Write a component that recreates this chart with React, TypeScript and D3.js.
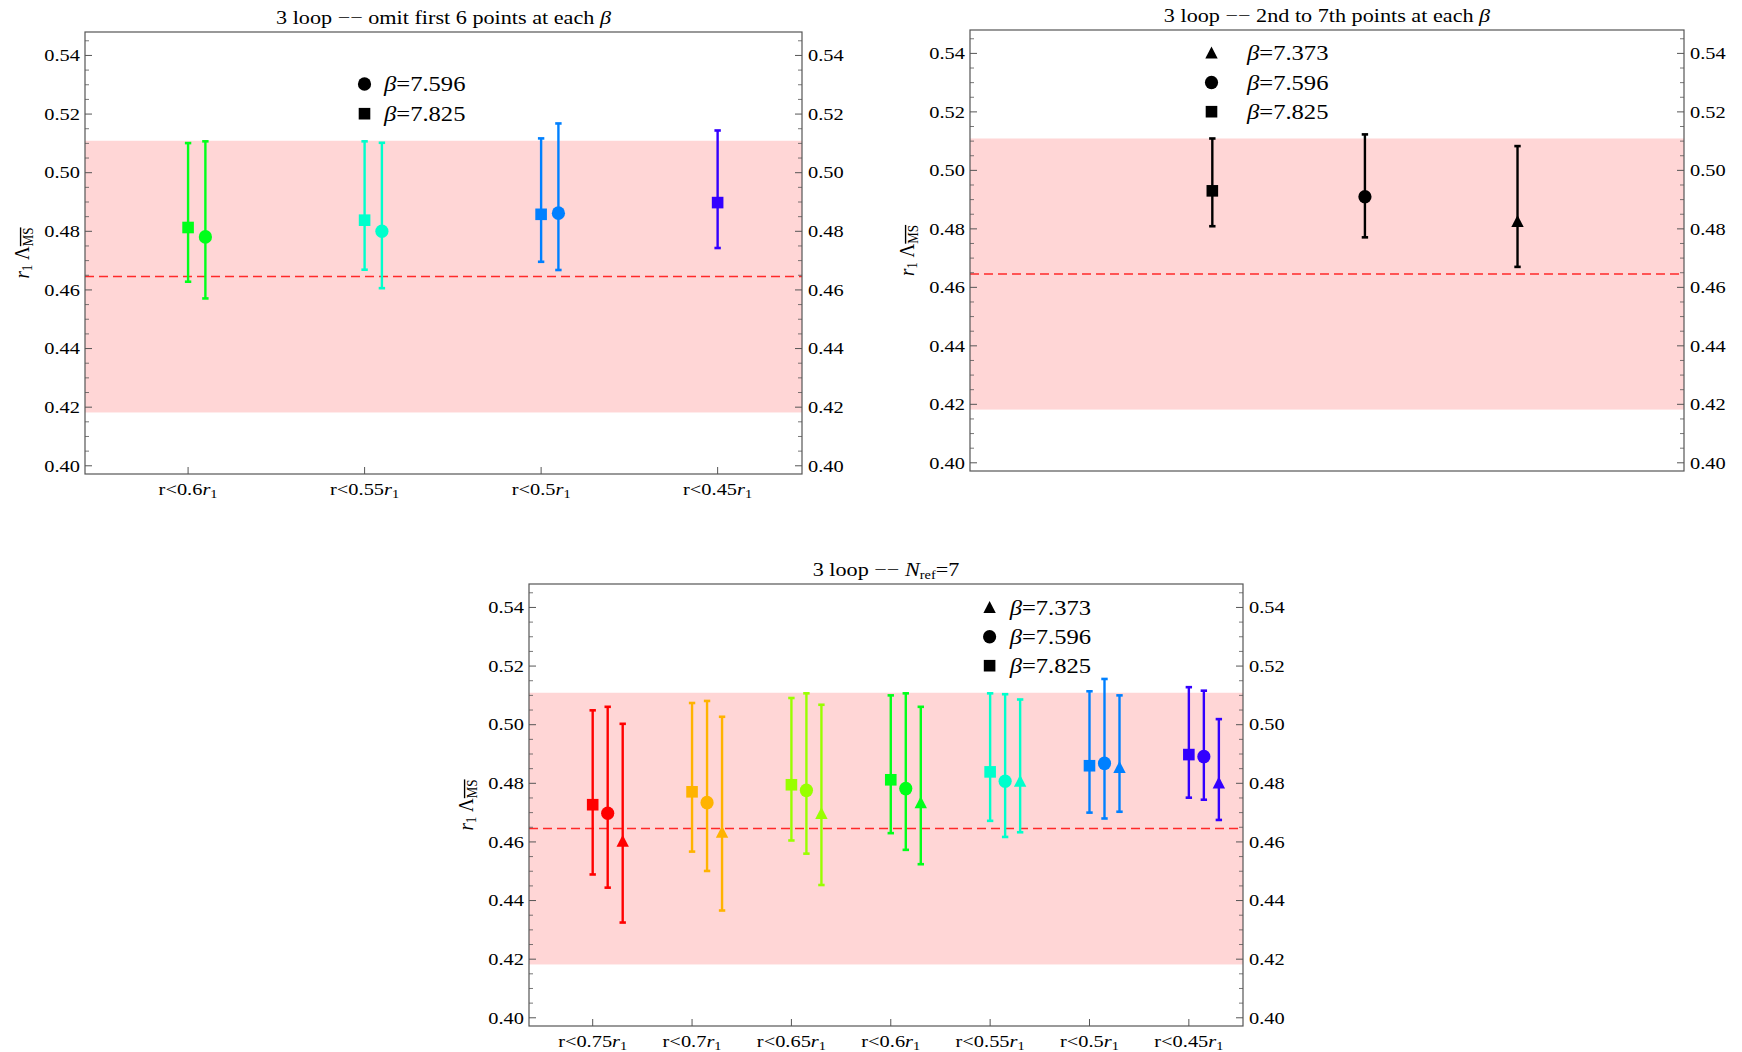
import React from "react";
import * as d3 from "d3";

// ---------- data ----------
const yMajorTicks = [0.40, 0.42, 0.44, 0.46, 0.48, 0.50, 0.52, 0.54];
const bandLow = 0.4182;
const bandHigh = 0.5109;
const refValue = 0.4646;

// Panel 1: omit first 6 points
const p1Cuts = ["0.6", "0.55", "0.5", "0.45"];
const p1Colors = ["#00FF1A", "#00FFCC", "#0080FF", "#3300FF"];
const p1SquareVal = [0.4813, 0.4838, 0.4858, 0.4898];
const p1SquareLo = [0.4628, 0.4669, 0.4696, 0.4743];
const p1SquareHi = [0.5101, 0.5107, 0.5117, 0.5144];
const p1CircleVal = [0.4781, 0.48, 0.4862, null];
const p1CircleLo = [0.4571, 0.4606, 0.4668, null];
const p1CircleHi = [0.5107, 0.5102, 0.5168, null];

// Panel 2: 2nd to 7th points
const p2Shapes = ["square", "circle", "triangle"];
const p2Val = [0.493, 0.491, 0.4824];
const p2Lo = [0.4809, 0.4771, 0.467];
const p2Hi = [0.5109, 0.5123, 0.5083];

// Panel 3: N_ref = 7
const p3Cuts = ["0.75", "0.7", "0.65", "0.6", "0.55", "0.5", "0.45"];
const p3Colors = ["#FF0000", "#FFB300", "#99FF00", "#00FF1A", "#00FFCC", "#0080FF", "#3300FF"];
const p3SquareVal = [0.4727, 0.4771, 0.4795, 0.4812, 0.4839, 0.486, 0.4898];
const p3SquareLo = [0.4489, 0.4567, 0.4605, 0.463, 0.4672, 0.47, 0.4751];
const p3SquareHi = [0.5049, 0.5074, 0.5091, 0.51, 0.5107, 0.5114, 0.5128];
const p3CircleVal = [0.4698, 0.4734, 0.4776, 0.4782, 0.4807, 0.4868, 0.4891];
const p3CircleLo = [0.4444, 0.4501, 0.456, 0.4573, 0.4617, 0.468, 0.4744];
const p3CircleHi = [0.5061, 0.5081, 0.5107, 0.5107, 0.5104, 0.5156, 0.5116];
const p3TriVal = [0.4601, 0.4632, 0.4696, 0.4733, 0.4806, 0.4853, 0.48];
const p3TriLo = [0.4325, 0.4366, 0.4453, 0.4524, 0.4633, 0.4703, 0.4675];
const p3TriHi = [0.5003, 0.5027, 0.5068, 0.5061, 0.5086, 0.51, 0.5019];

const legendTri = { shape: "triangle", beta: "7.373" };
const legendCirc = { shape: "circle", beta: "7.596" };
const legendSq = { shape: "square", beta: "7.825" };

// ---------- helpers ----------
const FONT = "'Liberation Serif','Times New Roman',serif";
const SX = 1.2;
const yMinorTicks = d3
  .range(0, 30)
  .map((i) => +(0.4 + i * 0.005).toFixed(3))
  .filter((v) => !yMajorTicks.some((m) => Math.abs(m - v) < 1e-6));
const fmt = d3.format(".2f");

type Pt = { x: number; shape: string; color: string; v: number; lo: number; hi: number };

function T({ x, y, anchor = "start", size = 17, rotate = false, children }: any) {
  const tr = rotate
    ? `translate(${x},${y}) rotate(-90) scale(1,1.05)`
    : `translate(${x},${y}) scale(${SX},1)`;
  return (
    <text transform={tr} textAnchor={anchor} fontSize={size} fontFamily={FONT} fill="#000">
      {children}
    </text>
  );
}

function Marker({ shape, x, y, color }: any) {
  if (shape === "square")
    return <rect x={x - 5.8} y={y - 5.8} width={11.6} height={11.6} fill={color} />;
  if (shape === "circle") return <ellipse cx={x} cy={y} rx={6.6} ry={6.8} fill={color} />;
  return <path d={`M${x},${y - 6.8}L${x + 6.2},${y + 5.2}L${x - 6.2},${y + 5.2}Z`} fill={color} />;
}

function Panel({ left, right, top, bottom, xDomain, xTicks, points, legend, title }: any) {
  const x = d3.scaleLinear().domain(xDomain).range([left, right]);
  const y = d3.scaleLinear().domain([0.3972, 0.548]).range([bottom, top]);
  const frame = "#555";
  return (
    <g>
      <rect x={left} y={y(bandHigh)} width={right - left} height={y(bandLow) - y(bandHigh)} fill="#FFD6D6" />
      <line x1={left} x2={right} y1={y(refValue)} y2={y(refValue)} stroke="#FF2A2A" strokeWidth={1.5} strokeDasharray="9,5" />
      {points.map((p: Pt, i: number) => (
        <g key={i} stroke={p.color} strokeWidth={2.4}>
          <line x1={x(p.x)} x2={x(p.x)} y1={y(p.hi)} y2={y(p.lo)} />
          <line x1={x(p.x) - 3.2} x2={x(p.x) + 3.2} y1={y(p.hi)} y2={y(p.hi)} strokeWidth={2.6} />
          <line x1={x(p.x) - 3.2} x2={x(p.x) + 3.2} y1={y(p.lo)} y2={y(p.lo)} strokeWidth={2.6} />
        </g>
      ))}
      {points.map((p: Pt, i: number) => (
        <Marker key={i} shape={p.shape} x={x(p.x)} y={y(p.v)} color={p.color} />
      ))}
      <rect x={left} y={top} width={right - left} height={bottom - top} fill="none" stroke={frame} strokeWidth={1.2} />
      {yMajorTicks.map((t) => (
        <g key={"M" + t} stroke={frame} strokeWidth={1}>
          <line x1={left} x2={left + 7} y1={y(t)} y2={y(t)} />
          <line x1={right} x2={right - 7} y1={y(t)} y2={y(t)} />
        </g>
      ))}
      {yMinorTicks.map((t) => (
        <g key={"m" + t} stroke={frame} strokeWidth={0.8}>
          <line x1={left} x2={left + 4} y1={y(t)} y2={y(t)} />
          <line x1={right} x2={right - 4} y1={y(t)} y2={y(t)} />
        </g>
      ))}
      {yMajorTicks.map((t) => (
        <g key={"L" + t}>
          <T x={left - 5} y={y(t) + 5.8} anchor="end">{fmt(t)}</T>
          <T x={right + 6} y={y(t) + 5.8} anchor="start">{fmt(t)}</T>
        </g>
      ))}
      {xTicks &&
        xTicks.map((c: string, i: number) => (
          <g key={"x" + i}>
            <line x1={x(i)} x2={x(i)} y1={bottom} y2={bottom - 7} stroke={frame} strokeWidth={1} />
            <T x={x(i)} y={bottom + 21} anchor="middle">
              r&lt;{c}
              <tspan fontStyle="italic">r</tspan>
              <tspan fontSize="12" dy="3">1</tspan>
            </T>
          </g>
        ))}
      <T x={left - 56} y={(top + bottom) / 2} anchor="middle" size={19} rotate>
        <tspan fontStyle="italic">r</tspan>
        <tspan fontSize="13" dy="3">1</tspan>
        <tspan dy="-3"> Λ</tspan>
        <tspan fontSize="13" dy="4" style={{ textDecoration: "overline" }}>MS</tspan>
      </T>
      <T x={(left + right) / 2} y={title.y} anchor="middle" size={18.5}>{title.node}</T>
      {legend.entries.map((e: any, i: number) => (
        <g key={"lg" + i}>
          <Marker shape={e.shape} x={legend.x} y={legend.y + i * legend.dy} color="#000" />
          <T x={legend.tx} y={legend.y + i * legend.dy + 7} size={20.5}>
            <tspan fontStyle="italic">β</tspan>={e.beta}
          </T>
        </g>
      ))}
    </g>
  );
}

function buildPoints(cols: string[], shape: string, off: number, v: any[], lo: any[], hi: any[]): Pt[] {
  const out: Pt[] = [];
  v.forEach((val, i) => {
    if (val != null) out.push({ x: i + off, shape, color: cols[i], v: val, lo: lo[i], hi: hi[i] });
  });
  return out;
}

export default function App() {
  const p1Points = [
    ...buildPoints(p1Colors, "square", 0, p1SquareVal, p1SquareLo, p1SquareHi),
    ...buildPoints(p1Colors, "circle", 0.098, p1CircleVal, p1CircleLo, p1CircleHi),
  ];
  const p2Points: Pt[] = p2Val.map((v, i) => ({ x: i, shape: p2Shapes[i], color: "#000", v, lo: p2Lo[i], hi: p2Hi[i] }));
  const p3Points = [
    ...buildPoints(p3Colors, "square", 0, p3SquareVal, p3SquareLo, p3SquareHi),
    ...buildPoints(p3Colors, "circle", 0.151, p3CircleVal, p3CircleLo, p3CircleHi),
    ...buildPoints(p3Colors, "triangle", 0.302, p3TriVal, p3TriLo, p3TriHi),
  ];
  return (
    <svg width={1742} height={1052} style={{ position: "absolute", left: 0, top: 0, background: "#fff" }}>
      <rect width={1742} height={1052} fill="#fff" />
      <Panel
        left={85} right={802} top={32} bottom={474}
        xDomain={[-0.584, 3.478]}
        xTicks={p1Cuts}
        points={p1Points}
        legend={{ x: 364.5, y: 84, dy: 29.7, tx: 384, entries: [legendCirc, legendSq] }}
        title={{ y: 24, node: <>3 loop −− omit first 6 points at each <tspan fontStyle="italic">β</tspan></> }}
      />
      <Panel
        left={970} right={1684} top={30} bottom={471}
        xDomain={[-1.588, 3.091]}
        xTicks={null}
        points={p2Points}
        legend={{ x: 1211.5, y: 53.3, dy: 29.2, tx: 1247, entries: [legendTri, legendCirc, legendSq] }}
        title={{ y: 22, node: <>3 loop −− 2nd to 7th points at each <tspan fontStyle="italic">β</tspan></> }}
      />
      <Panel
        left={529} right={1243} top={584} bottom={1026}
        xDomain={[-0.641, 6.545]}
        xTicks={p3Cuts}
        points={p3Points}
        legend={{ x: 989.6, y: 607.7, dy: 29, tx: 1009.7, entries: [legendTri, legendCirc, legendSq] }}
        title={{ y: 576, node: <>3 loop −−  <tspan fontStyle="italic">N</tspan><tspan fontSize="12" dy="3">ref</tspan><tspan dy="-3">=7</tspan></> }}
      />
    </svg>
  );
}
